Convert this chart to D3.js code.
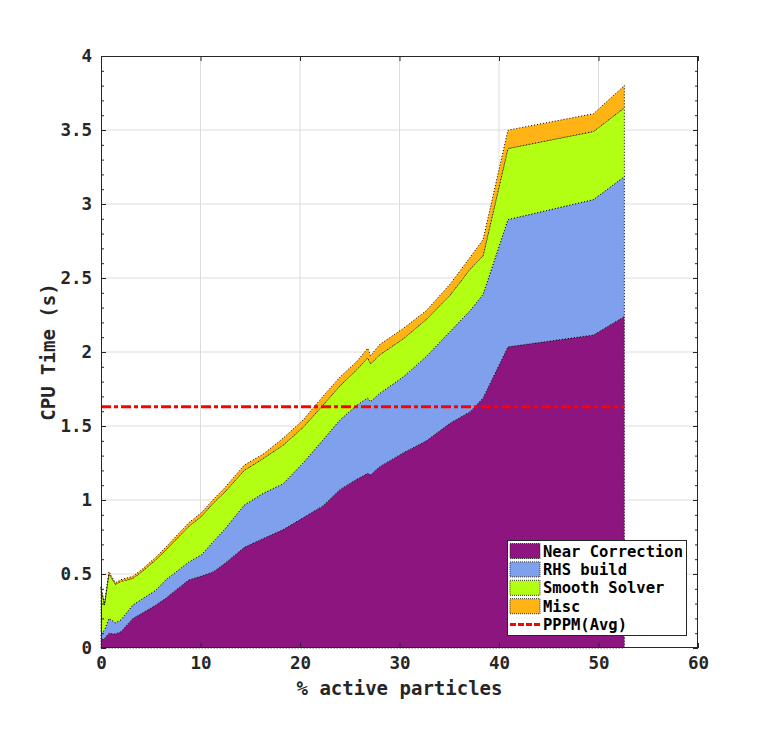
<!DOCTYPE html>
<html><head><meta charset="utf-8">
<script src="https://cdn.jsdelivr.net/npm/d3@7"></script>
<style>body{margin:0;background:#fff}</style>
</head><body>
<svg id="c" width="775" height="729"></svg>
<script>
const xs = [0, 0.35, 0.8, 1.45, 2.0, 3.2, 4.1, 5.5, 6.5, 8.8, 10.1, 11.3, 12.4, 14.4, 16.3, 18.3, 20.3, 22.3, 24.0, 25.7, 26.8, 27.1, 28.0, 30.4, 32.7, 35.1, 37.1, 38.4, 40.9, 49.5, 52.6];
const nearCorrection = [0.054, 0.065, 0.10, 0.095, 0.11, 0.20, 0.234, 0.29, 0.336, 0.46, 0.486, 0.516, 0.57, 0.68, 0.74, 0.80, 0.88, 0.96, 1.07, 1.14, 1.18, 1.17, 1.225, 1.32, 1.40, 1.52, 1.597, 1.69, 2.035, 2.115, 2.24];
const rhsBuild = [0.046, 0.055, 0.10, 0.076, 0.08, 0.09, 0.096, 0.10, 0.124, 0.12, 0.144, 0.204, 0.23, 0.286, 0.305, 0.31, 0.37, 0.445, 0.47, 0.50, 0.51, 0.495, 0.495, 0.513, 0.57, 0.62, 0.683, 0.70, 0.86, 0.915, 0.945];
const smoothSolver = [0.30, 0.17, 0.30, 0.259, 0.26, 0.18, 0.185, 0.205, 0.20, 0.24, 0.26, 0.26, 0.25, 0.234, 0.235, 0.26, 0.24, 0.235, 0.23, 0.24, 0.27, 0.255, 0.26, 0.257, 0.25, 0.245, 0.28, 0.26, 0.48, 0.46, 0.465];
const misc = [0.014, 0.01, 0.016, 0.01, 0.012, 0.014, 0.015, 0.018, 0.02, 0.025, 0.025, 0.025, 0.03, 0.036, 0.03, 0.047, 0.05, 0.06, 0.06, 0.055, 0.065, 0.055, 0.07, 0.07, 0.06, 0.075, 0.08, 0.11, 0.124, 0.12, 0.15];
const pppmAvg = 1.63;
const seriesNames = ["Near Correction", "RHS build", "Smooth Solver", "Misc"];
const lineName = "PPPM(Avg)";
const xTicks = [0, 10, 20, 30, 40, 50, 60];
const yTicks = [0, 0.5, 1, 1.5, 2, 2.5, 3, 3.5, 4];
const colors = ["#8c1580", "#7fa0ec", "#b3ff14", "#ffb314"];

const M = {l:101, t:56, r:698, b:648};
const svg = d3.select("#c");
const x = d3.scaleLinear().domain([0,60]).range([M.l, M.r]);
const y = d3.scaleLinear().domain([0,4]).range([M.b, M.t]);
const font = "'DejaVu Sans Mono', monospace";

// grid
const g = svg.append("g");
g.selectAll(".gx").data(xTicks.slice(1,-1)).enter().append("line")
  .attr("x1", d=>x(d)).attr("x2", d=>x(d)).attr("y1", M.t).attr("y2", M.b)
  .attr("stroke", "#dcdcdc").attr("stroke-width", 1);
g.selectAll(".gy").data(yTicks.slice(1,-1)).enter().append("line")
  .attr("y1", d=>y(d)).attr("y2", d=>y(d)).attr("x1", M.l).attr("x2", M.r)
  .attr("stroke", "#dcdcdc").attr("stroke-width", 1);

// stacked areas
const rows = xs.map((v,i)=>({x:v, a:nearCorrection[i], b:rhsBuild[i], c:smoothSolver[i], d:misc[i]}));
const stack = d3.stack().keys(["a","b","c","d"])(rows);
const area = d3.area().x(d=>x(d.data.x)).y0(d=>y(d[0])).y1(d=>y(d[1]));
svg.append("g").selectAll("path").data(stack).enter().append("path")
  .attr("d", area).attr("fill", (d,i)=>colors[i])
  .attr("stroke", "#000").attr("stroke-width", 1).attr("stroke-dasharray", "1,2");

// PPPM line
svg.append("line").attr("x1", x(xs[0])).attr("x2", x(xs[xs.length-1]))
  .attr("y1", y(pppmAvg)).attr("y2", y(pppmAvg))
  .attr("stroke", "#ff0000").attr("stroke-width", 3).attr("stroke-dasharray", "10,3,4,3");

// box
svg.append("rect").attr("x", M.l+0.5).attr("y", M.t+0.5).attr("width", M.r-M.l-1).attr("height", M.b-M.t-1)
  .attr("fill", "none").attr("stroke", "#262626").attr("stroke-width", 1);

// axes
const axB = d3.axisBottom(x).tickValues(xTicks).tickSize(-5).tickPadding(9).tickFormat(d3.format("d"));
const axT = d3.axisTop(x).tickValues(xTicks).tickSize(-5).tickFormat("");
const axL = d3.axisLeft(y).tickValues(yTicks).tickSize(-5).tickPadding(9).tickFormat(d=>d===0?"0":String(d));
const axR = d3.axisRight(y).tickValues(yTicks).tickSize(-5).tickFormat("");
const minor = d3.range(0, 4.0001, 0.1).map(v=>+v.toFixed(1));
const axLm = d3.axisLeft(y).tickValues(minor).tickSize(-3).tickFormat("");
const axRm = d3.axisRight(y).tickValues(minor).tickSize(-3).tickFormat("");
function style(sel){
  sel.select(".domain").remove();
  sel.selectAll("line").attr("stroke", "#262626");
  sel.selectAll("text").attr("font-family", font).attr("font-weight", "bold").attr("font-size", "17.5px").attr("fill", "#262626");
}
svg.append("g").attr("transform", `translate(0,${M.b})`).call(axB).call(style);
svg.append("g").attr("transform", `translate(0,${M.t})`).call(axT).call(style);
svg.append("g").attr("transform", `translate(${M.l},0)`).call(axL).call(style);
svg.append("g").attr("transform", `translate(${M.r},0)`).call(axR).call(style);
svg.append("g").attr("transform", `translate(${M.l},0)`).call(axLm).call(style);
svg.append("g").attr("transform", `translate(${M.r},0)`).call(axRm).call(style);

// labels
svg.append("text").attr("x", (M.l+M.r)/2).attr("y", 695).attr("text-anchor", "middle")
  .attr("font-family", font).attr("font-size", "19px").attr("font-weight", "bold").attr("fill", "#262626")
  .text("% active particles");
svg.append("text").attr("transform", `translate(55,${(M.t+M.b)/2}) rotate(-90)`).attr("text-anchor", "middle")
  .attr("font-family", font).attr("font-size", "19px").attr("font-weight", "bold").attr("fill", "#262626")
  .text("CPU Time (s)");

// legend
const lg = svg.append("g");
lg.append("rect").attr("x", 507.5).attr("y", 540.5).attr("width", 179).attr("height", 95)
  .attr("fill", "#fff").attr("stroke", "#262626").attr("stroke-width", 1);
const rowY = i => 551 + i*18.4;
seriesNames.forEach((n,i)=>{
  lg.append("rect").attr("x", 510).attr("y", rowY(i)-7.5).attr("width", 30).attr("height", 15)
    .attr("fill", colors[i]).attr("stroke", "#333").attr("stroke-width", 1).attr("stroke-dasharray", "1,1");
  lg.append("text").attr("x", 543).attr("y", rowY(i)+5.5).attr("font-family", font)
    .attr("font-size", "15.5px").attr("font-weight", "bold").attr("fill", "#000").text(n);
});
lg.append("line").attr("x1", 510).attr("x2", 540).attr("y1", rowY(4)).attr("y2", rowY(4))
  .attr("stroke", "#ff0000").attr("stroke-width", 3).attr("stroke-dasharray", "6,2");
lg.append("text").attr("x", 543).attr("y", rowY(4)+5.5).attr("font-family", font)
  .attr("font-size", "15.5px").attr("font-weight", "bold").attr("fill", "#000").text(lineName);
</script>
</body></html>
